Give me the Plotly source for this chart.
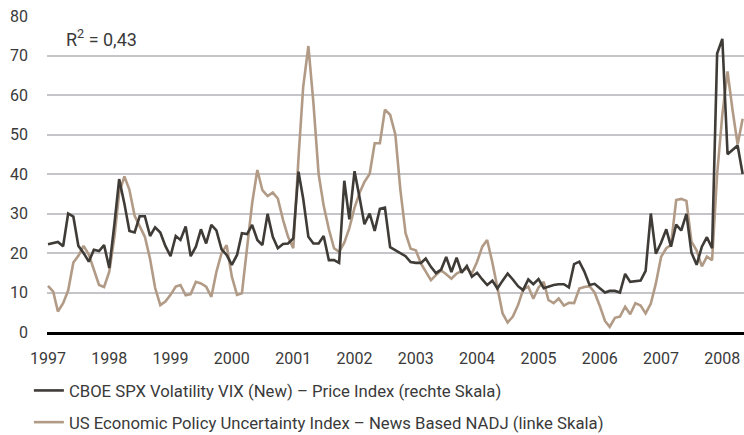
import plotly.graph_objects as go
import pandas as pd

# ---- data (monthly) ----
start_month = "1997-01-01"

vix = [22.2, 22.6, 22.8, 21.7, 30, 29.2, 21.8, 20, 17.8, 20.8, 20.5, 22, 16.2, 27.5, 38.7,
       32.5, 25.6, 25.2, 29.3, 29.3, 24.3, 26.5, 25.2, 21.8, 19.2, 24.3, 23.3, 26.7, 19.2, 21.6,
       26, 22.4, 27.1, 25.7, 20.9, 19.5, 17,
       19.5, 25, 24.8, 27.1, 23.3, 22, 29.9, 24.1, 21.2, 22.3, 22.4, 23.7, 40.6,
       33.8, 24.1, 22.4, 22.4, 24.3, 18.2, 18.2, 17.5, 38.3, 28.5, 40.7,
       33.8, 27.3, 30, 25.6, 31.2, 31.5, 21.5,
       20.7, 19.8, 19.2, 17.7, 17.5, 17.5, 18.6, 16.5, 14.9, 15.8,
       19, 15.2, 18.8,
       15, 16.7, 14, 15, 13.3, 11.9, 13, 11, 13, 14.8,
       13.3, 11.6, 10.6, 13.3, 12.1, 13.4, 11.1, 11.5, 11.9, 12.1, 12.1, 11.3,
       17.2, 17.8, 15.3, 11.9, 12.2, 11.1, 10, 10.4, 10.4, 10, 14.7, 12.7, 12.9, 13, 15.5,
       30, 19.8, 22.6, 26, 21.6, 27.2, 25.7, 29.9, 20.1, 17, 21.6, 24, 21.2, 70.5, 74.2,
       45, 46, 47.2, 40]

epu = [11.7, 10.2, 5.2, 7.3, 10.5, 17.6, 19.3, 21.8, 19.6, 15.7, 11.9, 11.4, 15.3, 24.2, 35.2, 39.4,
       36, 29.4, 26.7, 24.1, 18.5, 11.2, 6.8, 7.7, 9.4, 11.5, 11.9, 9.3, 9.6, 12.7, 12.3, 11.5,
       8.9, 15.2, 20, 22,
       14, 9.4, 9.8, 20.8, 32.6, 41, 35.9, 34.4, 35.3, 33.8, 28.4, 24.1, 21.2,
       44, 62, 72.4, 58, 40, 32, 26, 21.2, 20.3, 22.6, 26.3, 31.5, 35.3, 38, 40, 47.8, 47.8,
       56.3, 55, 50, 36, 25, 21.1,
       20.7, 17.3, 15.2, 13.1, 14.4, 15.6, 14.6, 13.5, 14.8, 15.4, 16.1, 14.8, 17.8, 21.6,
       23.3, 17.6, 11.2, 4.7, 2.4, 3.9, 6.8, 10.7, 11.5, 8.4, 11.3, 12.7, 8.1, 7.3, 8.5, 6.7,
       7.4, 7.3, 11, 11.4, 11.6, 10, 6.6, 2.8, 1.3, 3.6, 3.9, 6.4, 4.5, 7.3, 6.7, 4.7, 7.2,
       12.3, 19, 21.2, 22, 33.4, 33.7, 33.2, 22.9, 20.6, 16.6, 19.1, 18.2, 40, 55, 66, 56.4,
       47.5, 54]

series_names = [
    "CBOE SPX Volatility VIX (New) – Price Index (rechte Skala)",
    "US Economic Policy Uncertainty Index – News Based NADJ (linke Skala)",
]
y_ticks = [0, 10, 20, 30, 40, 50, 60, 70, 80]
r2_text = "R<sup>2</sup> = 0,43"

dates = pd.date_range(start_month, periods=len(vix), freq="MS")

VIX_COLOR = "#3f3b37"
EPU_COLOR = "#b19b86"
FONT = "Roboto"
TEXT_COLOR = "#3a3a3a"

fig = go.Figure()
fig.add_trace(go.Scatter(x=dates, y=epu, mode="lines", name=series_names[1],
                         legendgroup="b", legendrank=2,
                         line=dict(color=EPU_COLOR, width=2.6)))
fig.add_trace(go.Scatter(x=dates, y=vix, mode="lines", name=series_names[0],
                         legendgroup="a", legendrank=1,
                         line=dict(color=VIX_COLOR, width=2.6)))

fig.add_annotation(text=r2_text, xref="paper", yref="paper", x=0.024, y=0.93,
                   xanchor="left", yanchor="middle", showarrow=False,
                   font=dict(family=FONT, size=18, color=TEXT_COLOR))

fig.update_layout(
    width=744, height=435,
    margin=dict(l=47, r=0, t=16, b=103, autoexpand=False),
    paper_bgcolor="white", plot_bgcolor="white",
    font=dict(family=FONT, size=16, color=TEXT_COLOR),
    showlegend=True,
    legend=dict(orientation="v", x=-0.026, xanchor="left", y=-0.13, yanchor="top",
                traceorder="grouped", tracegroupgap=7,
                font=dict(family=FONT, size=16.7, color=TEXT_COLOR),
                itemwidth=30, bgcolor="rgba(0,0,0,0)"),
    xaxis=dict(type="date", range=["1996-12-26", "2008-05-09"],
               tick0="1997-01-01", dtick="M12", tickformat="%Y",
               showgrid=False, zeroline=False,
               showline=True, linecolor="black", linewidth=3,
               ticks="", ticklabelstandoff=10,
               tickfont=dict(family=FONT, size=16, color=TEXT_COLOR)),
    yaxis=dict(range=[0, 80], tickvals=y_ticks, showgrid=True,
               gridcolor="#c4c4c9", gridwidth=1.5, zeroline=False,
               showline=False, ticks="", ticklabelstandoff=18,
               tickfont=dict(family=FONT, size=16, color=TEXT_COLOR)),
)

fig.write_html("out.html", config={"displayModeBar": False},
               post_script="document.body.style.margin='0';document.body.style.overflow='hidden';")
